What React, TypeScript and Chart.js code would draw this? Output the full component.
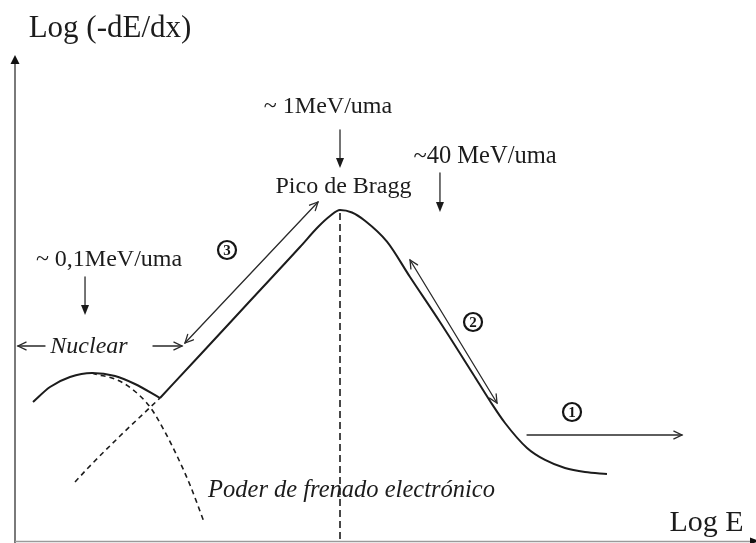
import { useEffect, useRef } from "react";
import { Chart, registerables } from "chart.js";

Chart.register(...registerables);

// Abstract units: x = Log E, y = Log(-dE/dx), both on a 0..100 scale.
type P = [number, number];

// Total stopping power, low-energy (nuclear) bump
const totalLowEnergy: P[] = [
  [2.43, 28.6], [4.72, 31.69], [7.42, 33.74], [10.39, 34.57],
  [13.5, 33.95], [16.19, 32.3], [19.57, 29.42],
];

// Total stopping power, electronic region (rise, Bragg peak, fall)
const totalElectronic: P[] = [
  [19.57, 29.42], [24.97, 38.27], [31.71, 49.38], [38.46, 60.49],
  [40.89, 64.61], [42.51, 66.87], [43.86, 68.11], [45.48, 67.6],
  [47.23, 65.9], [50.2, 61.6], [53.31, 54.32], [57.35, 45.06],
  [61.81, 34.36], [64.1, 28.81], [66.13, 24.28], [69.1, 19.14],
  [71.53, 16.67], [74.22, 15.02], [76.92, 14.2], [79.89, 13.79],
];

// Nuclear stopping power (dashed)
const nuclearStopping: P[] = [
  [10.39, 34.57], [10.8, 34.36], [13.5, 33.33], [15.79, 31.28],
  [18.22, 27.57], [20.24, 22.43], [22.0, 17.08], [23.62, 11.52], [25.51, 3.91],
];

// Electronic stopping power extrapolated to low energy (dashed)
const electronicExtrap: P[] = [
  [8.1, 12.14], [9.85, 15.02], [14.17, 21.6], [19.57, 29.42],
];

// Bragg peak marker (vertical dashed)
const braggMarker: P[] = [[43.86, 67.5], [43.86, 0]];

// Text labels
const labelTexts = [
  "Log (-dE/dx)", "Log E", "~ 1MeV/uma", "Pico de Bragg", "~40 MeV/uma",
  "~ 0,1MeV/uma", "Nuclear", "Poder de frenado electrónico",
];
const labelX = [12.82, 93.32, 42.24, 44.33, 63.43, 12.69, 9.99, 45.41];
const labelY = [103.7, 2.06, 88.07, 71.6, 77.78, 56.58, 38.68, 9.05];
const labelSize = [31, 30, 24, 24, 24.5, 24, 24, 24.5];
const labelItalic = [false, false, false, false, false, false, true, true];

// Arrows: [x1, y1, x2, y2]
const filledArrows: number[][] = [
  [9.45, 54.32, 9.45, 46.5],
  [43.86, 84.57, 43.86, 76.75],
  [57.35, 75.72, 57.35, 67.7],
];
const openArrows: number[][] = [
  [4.05, 40.12, 0.4, 40.12],
  [18.62, 40.12, 22.54, 40.12],
  [69.1, 21.81, 90.01, 21.81],
];
const doubleArrows: number[][] = [
  [22.94, 40.74, 40.89, 69.75],
  [53.31, 57.82, 65.05, 28.4],
];

// Circled region numbers
const regionNumbers = ["3", "2", "1"];
const regionX = [28.61, 61.81, 75.17];
const regionY = [59.88, 45.06, 26.54];

const toXY = (arr: P[]) => arr.map(([x, y]) => ({ x, y }));
const SERIF = '"Liberation Serif", "Times New Roman", serif';
const INK = "#1c1c1c";

function openHead(ctx: CanvasRenderingContext2D, x1: number, y1: number, x2: number, y2: number) {
  const a = Math.atan2(y2 - y1, x2 - x1);
  const len = 9, ang = 0.45;
  ctx.beginPath();
  ctx.moveTo(x2 - len * Math.cos(a - ang), y2 - len * Math.sin(a - ang));
  ctx.lineTo(x2, y2);
  ctx.lineTo(x2 - len * Math.cos(a + ang), y2 - len * Math.sin(a + ang));
  ctx.stroke();
}

function filledHead(ctx: CanvasRenderingContext2D, x1: number, y1: number, x2: number, y2: number, len = 10, hw = 4) {
  const a = Math.atan2(y2 - y1, x2 - x1);
  const bx = x2 - len * Math.cos(a), by = y2 - len * Math.sin(a);
  ctx.beginPath();
  ctx.moveTo(x2, y2);
  ctx.lineTo(bx + hw * Math.sin(a), by - hw * Math.cos(a));
  ctx.lineTo(bx - hw * Math.sin(a), by + hw * Math.cos(a));
  ctx.closePath();
  ctx.fill();
}

const diagramPlugin = {
  id: "diagram",
  beforeDatasetsDraw(chart: any) {
    const { ctx, chartArea } = chart;
    ctx.save();
    ctx.strokeStyle = "#7a7a7a";
    ctx.lineWidth = 2;
    ctx.beginPath();
    ctx.moveTo(chartArea.left, chartArea.top + 6);
    ctx.lineTo(chartArea.left, chartArea.bottom + 2);
    ctx.stroke();
    ctx.strokeStyle = "#9a9a9a";
    ctx.lineWidth = 1.5;
    ctx.beginPath();
    ctx.moveTo(chartArea.left, chartArea.bottom + 0.5);
    ctx.lineTo(chartArea.right, chartArea.bottom + 0.5);
    ctx.stroke();
    ctx.fillStyle = "#111";
    filledHead(ctx, chartArea.left, chartArea.top + 20, chartArea.left, chartArea.top, 9, 4.5);
    filledHead(ctx, chartArea.right - 20, chartArea.bottom, chartArea.right + 3, chartArea.bottom, 9, 3.5);
    ctx.restore();
  },
  afterDatasetsDraw(chart: any) {
    const { ctx } = chart;
    const xs = chart.scales.x, ys = chart.scales.y;
    const px = (v: number) => xs.getPixelForValue(v);
    const py = (v: number) => ys.getPixelForValue(v);
    ctx.save();
    ctx.strokeStyle = "#2a2a2a";
    ctx.fillStyle = "#1a1a1a";
    ctx.lineWidth = 1.3;
    ctx.lineCap = "round";

    filledArrows.forEach(([a, b, c, d]) => {
      const x1 = px(a), y1 = py(b), x2 = px(c), y2 = py(d);
      ctx.beginPath();
      ctx.moveTo(x1, y1);
      ctx.lineTo(x2, y2 - 6);
      ctx.stroke();
      filledHead(ctx, x1, y1, x2, y2, 10, 4);
    });
    openArrows.forEach(([a, b, c, d]) => {
      const x1 = px(a), y1 = py(b), x2 = px(c), y2 = py(d);
      ctx.beginPath();
      ctx.moveTo(x1, y1);
      ctx.lineTo(x2, y2);
      ctx.stroke();
      openHead(ctx, x1, y1, x2, y2);
    });
    doubleArrows.forEach(([a, b, c, d]) => {
      const x1 = px(a), y1 = py(b), x2 = px(c), y2 = py(d);
      ctx.beginPath();
      ctx.moveTo(x1, y1);
      ctx.lineTo(x2, y2);
      ctx.stroke();
      openHead(ctx, x1, y1, x2, y2);
      openHead(ctx, x2, y2, x1, y1);
    });

    regionNumbers.forEach((n, i) => {
      const cx = px(regionX[i]), cy = py(regionY[i]);
      ctx.lineWidth = 2.2;
      ctx.strokeStyle = "#151515";
      ctx.beginPath();
      ctx.arc(cx, cy, 9, 0, Math.PI * 2);
      ctx.stroke();
      ctx.fillStyle = "#151515";
      ctx.font = `bold 15px ${SERIF}`;
      ctx.textAlign = "center";
      ctx.textBaseline = "middle";
      ctx.fillText(n, cx, cy + 1);
    });

    ctx.fillStyle = INK;
    ctx.textBaseline = "alphabetic";
    ctx.textAlign = "center";
    labelTexts.forEach((t, i) => {
      ctx.font = `${labelItalic[i] ? "italic " : ""}${labelSize[i]}px ${SERIF}`;
      ctx.fillText(t, px(labelX[i]), py(labelY[i]));
    });
    ctx.restore();
  },
};

export default function App() {
  const ref = useRef<HTMLCanvasElement>(null);
  useEffect(() => {
    const line = (data: P[], dash: number[] = [], width = 2) => ({
      data: toXY(data),
      showLine: true,
      borderColor: INK,
      borderWidth: width,
      borderDash: dash,
      pointRadius: 0,
      cubicInterpolationMode: "monotone" as const,
      fill: false,
    });
    const chart = new Chart(ref.current!, {
      type: "scatter",
      data: {
        datasets: [
          line(totalLowEnergy),
          line(totalElectronic),
          line(nuclearStopping, [5, 4], 1.6),
          line(electronicExtrap, [5, 4], 1.6),
          { ...line(braggMarker, [7, 4], 1.6), cubicInterpolationMode: "default" as const },
        ],
      },
      options: {
        animation: false,
        responsive: false,
        maintainAspectRatio: false,
        layout: { padding: { left: 15, top: 55, right: 0, bottom: 2 } },
        scales: {
          x: { type: "linear", min: 0, max: 100, display: false },
          y: { type: "linear", min: 0, max: 100, display: false },
        },
        plugins: { legend: { display: false }, tooltip: { enabled: false } },
      },
      plugins: [diagramPlugin],
    });
    return () => chart.destroy();
  }, []);
  return (
    <div style={{ position: "absolute", left: 0, top: 0, width: 756, height: 543, background: "#fff" }}>
      <canvas ref={ref} width={756} height={543} style={{ display: "block" }} />
    </div>
  );
}
